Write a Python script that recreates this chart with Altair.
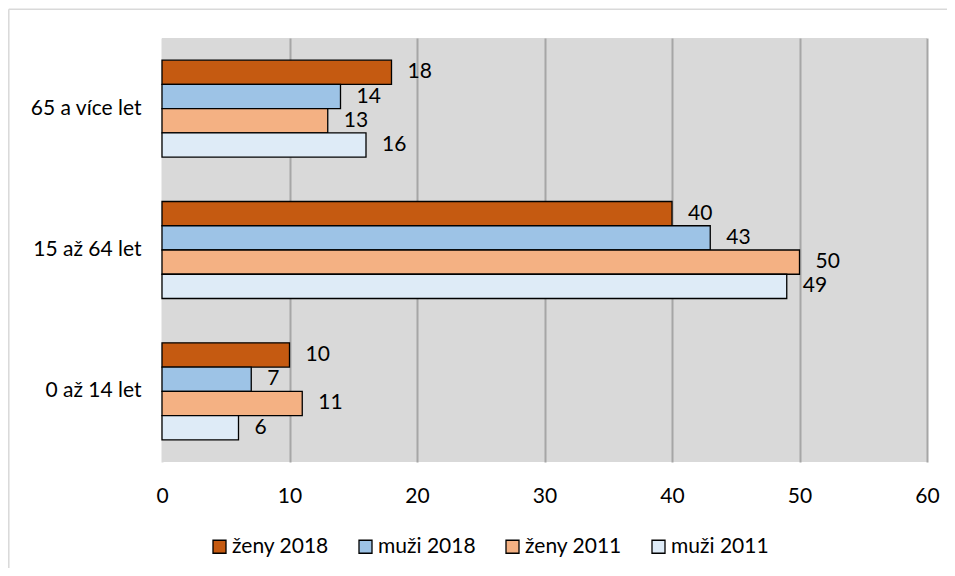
import altair as alt
import pandas as pd

categories = ["65 a více let", "15 až 64 let", "0 až 14 let"]
series = ["ženy 2018", "muži 2018", "ženy 2011", "muži 2011"]
zeny_2018 = [18, 40, 10]
muzi_2018 = [14, 43, 7]
zeny_2011 = [13, 50, 11]
muzi_2011 = [16, 49, 6]
colors = ["#C55A11", "#9DC3E6", "#F4B183", "#DEEBF7"]
x_ticks = [0, 10, 20, 30, 40, 50, 60]

rows = []
for s, vals in zip(series, [zeny_2018, muzi_2018, zeny_2011, muzi_2011]):
    for c, v in zip(categories, vals):
        rows.append({"kategorie": c, "serie": s, "hodnota": v})
df = pd.DataFrame(rows)

FONT = "Lato"

y_enc = alt.Y("kategorie:N", sort=categories, title=None,
              scale=alt.Scale(paddingInner=0.314, paddingOuter=0.157),
              axis=alt.Axis(ticks=False, domain=False, labelPadding=21,
                            labelFontSize=21, labelFont=FONT, labelColor="#000000"))
yoff_enc = alt.YOffset("serie:N", sort=series,
                       scale=alt.Scale(paddingInner=0, paddingOuter=0))
x_enc = alt.X("hodnota:Q", title=None,
              scale=alt.Scale(domain=[0, 60], nice=False),
              axis=alt.Axis(values=x_ticks, ticks=False, domain=False,
                            labelFlush=False,
                            labelPadding=23, labelFontSize=21, labelFont=FONT,
                            labelColor="#000000",
                            gridColor={"condition": {"test": "datum.value === 0", "value": "#D9D9D9"}, "value": "#A6A6A6"},
                            gridWidth=2))

bars = alt.Chart(df).mark_bar(stroke="#000000", strokeWidth=1.3).encode(
    x=x_enc,
    y=y_enc,
    yOffset=yoff_enc,
    color=alt.Color("serie:N", sort=series, title=None,
                    scale=alt.Scale(domain=series, range=colors),
                    legend=alt.Legend(orient="none", direction="horizontal",
                                      legendX=47, legendY=498,
                                      symbolType="square", symbolSize=169,
                                      symbolStrokeColor="#000000", symbolStrokeWidth=1.3,
                                      labelFontSize=21, labelFont=FONT, labelColor="#000000",
                                      labelOffset=2, columnPadding=26)),
)

labels = alt.Chart(df).mark_text(align="left", baseline="middle", dx=16,
                                 fontSize=21, font=FONT, color="#000000").encode(
    x=alt.X("hodnota:Q"),
    y=alt.Y("kategorie:N", sort=categories),
    yOffset=alt.YOffset("serie:N", sort=series),
    text=alt.Text("hodnota:Q"),
)

border_df = pd.DataFrame({"k": [0]})
border_left = alt.Chart(border_df).mark_rule(color="#D9D9D9", strokeWidth=1.5).encode(
    x=alt.value(-153.2), y=alt.value(-28.7), y2=alt.value(540))
border_top = alt.Chart(border_df).mark_rule(color="#D9D9D9", strokeWidth=1.5).encode(
    x=alt.value(-153.2), x2=alt.value(790), y=alt.value(-28.7))

chart = alt.layer(bars, labels, border_left, border_top).properties(
    width=765, height=424,
    padding={"left": 154, "top": 30, "right": 20, "bottom": 106},
    autosize="none",
    background="#FFFFFF",
).configure_view(fill="#D9D9D9", stroke=None)

chart.save("out.html", embed_options={"renderer": "svg", "actions": False})
